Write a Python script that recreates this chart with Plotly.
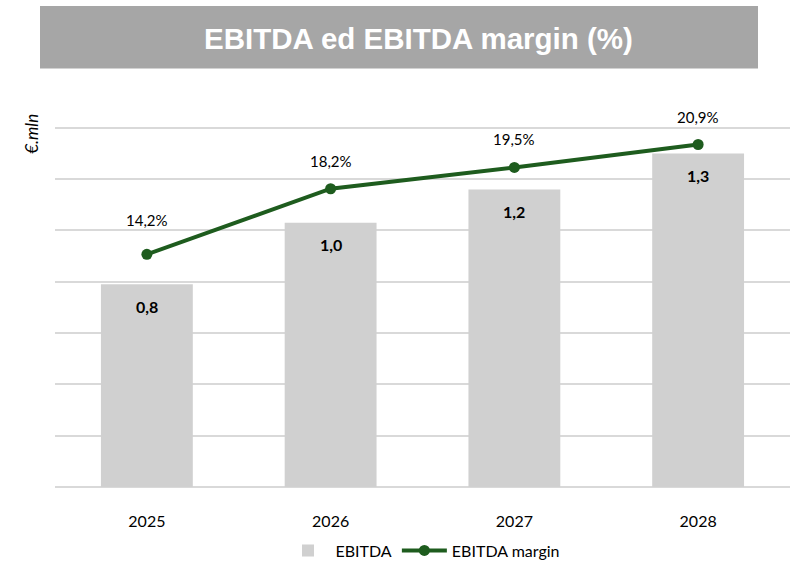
import plotly.graph_objects as go

years = ["2025", "2026", "2027", "2028"]
ebitda = [0.79, 1.03, 1.16, 1.30]
margin = [14.2, 18.2, 19.5, 20.9]
margin_labels = ["14,2%", "18,2%", "19,5%", "20,9%"]
ebitda_labels = ["0,8", "1,0", "1,2", "1,3"]

W, H = 795, 572
L, R, T, B = 55, 5, 115, 82
pw, ph = W - L - R, H - T - B

def px(x):
    return (x - L) / pw

def py(y):
    return (H - B - y) / ph

FONT = "Lato, Calibri, Carlito, sans-serif"
GREEN = "#1E5C1E"

fig = go.Figure()
fig.add_trace(go.Bar(
    x=years, y=ebitda, name="EBITDA",
    marker=dict(color="#D0D0D0", line=dict(width=0)),
))
fig.add_trace(go.Scatter(
    x=years, y=margin, name="EBITDA margin", yaxis="y2",
    mode="lines+markers",
    line=dict(color=GREEN, width=4),
    marker=dict(color=GREEN, size=11),
))

annotations = []
for i, (v, lab) in enumerate(zip(ebitda, ebitda_labels)):
    annotations.append(dict(
        x=i, y=v, xref="x", yref="y", text="<b>" + lab + "</b>", showarrow=False,
        yanchor="middle", yshift=-22,
        font=dict(size=16, color="#000000", family=FONT),
    ))
for i, (m, lab) in enumerate(zip(margin, margin_labels)):
    annotations.append(dict(
        x=i, y=m, xref="x", yref="y2", text=lab, showarrow=False,
        yshift=34 if i == 0 else 28,
        font=dict(size=15, color="#000000", family=FONT),
    ))
annotations.append(dict(
    x=px(32), y=py(134), xref="paper", yref="paper", text="<i>€.mln</i>",
    textangle=-90, showarrow=False, xanchor="center", yanchor="middle",
    font=dict(size=17, color="#000000", family=FONT),
))
annotations.append(dict(
    x=px(418), y=py(38), xref="paper", yref="paper",
    text="<b>EBITDA ed EBITDA margin (%)</b>", showarrow=False,
    xanchor="center", yanchor="middle",
    font=dict(size=29.5, color="#FFFFFF", family="Liberation Sans, Arial, sans-serif"),
))

fig.update_layout(
    width=W, height=H,
    margin=dict(l=L, r=R, t=T, b=B),
    paper_bgcolor="#FFFFFF", plot_bgcolor="#FFFFFF",
    separators=",.",
    showlegend=True,
    legend=dict(orientation="h", x=0.5, xanchor="center", y=py(554), yanchor="middle",
                font=dict(size=16, color="#000000", family=FONT),
                traceorder="normal", itemwidth=45),
    xaxis=dict(type="category", range=[-0.5, 3.5], showgrid=False, showline=False,
               ticks="outside", ticklen=20, tickcolor="rgba(0,0,0,0)",
               tickfont=dict(size=16, color="#000000", family=FONT)),
    yaxis=dict(range=[0, 1.45], dtick=0.2, showgrid=True, gridcolor="#D9D9D9",
               gridwidth=1.5, showticklabels=False, zeroline=True,
               zerolinecolor="#D9D9D9", zerolinewidth=1.5),
    yaxis2=dict(range=[0, 22.7], overlaying="y", side="right", showgrid=False,
                showticklabels=False, zeroline=False),
    bargap=0.5,
    annotations=annotations,
    shapes=[dict(type="rect", xref="paper", yref="paper",
                 x0=px(40), x1=px(758), y0=py(68), y1=py(5),
                 fillcolor="#A6A6A6", line=dict(width=0), layer="below")],
)

fig.write_html("out.html", config={"displayModeBar": False},
               post_script="document.body.style.margin='0';")
